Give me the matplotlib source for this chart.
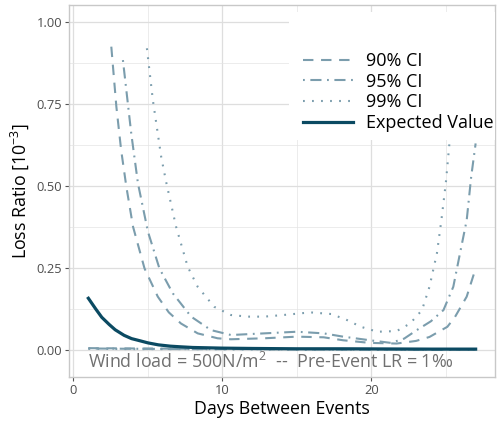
import matplotlib
matplotlib.use("Agg")
import matplotlib.pyplot as plt
from matplotlib.patches import Rectangle
from matplotlib.ticker import MultipleLocator

plt.rcParams['font.family'] = ['Open Sans', 'DejaVu Sans']
plt.rcParams['mathtext.fontset'] = 'custom'
plt.rcParams['mathtext.rm'] = 'Open Sans'
plt.rcParams['mathtext.it'] = 'Open Sans'
plt.rcParams['lines.scale_dashes'] = False

# expected loss ratio [10^-3]
ev_days = [1, 1.5, 1.9, 2.4, 2.8, 3.4, 3.9, 4.5, 5, 5.7, 6.5, 7.2, 8, 9, 10, 12, 15, 18, 21, 24, 27]
ev_vals = [0.158, 0.125, 0.100, 0.078, 0.062, 0.045, 0.035, 0.028, 0.022, 0.016, 0.012, 0.010,
           0.008, 0.007, 0.006, 0.005, 0.004, 0.004, 0.0035, 0.003, 0.003]

# upper bounds of the confidence intervals
ci90_days = [2.54, 2.88, 3.2, 3.55, 4.0, 4.77, 5.66, 6.4, 7.22, 8.34, 9.68, 10.57, 12.8, 15, 16.8,
             18.1, 19.9, 21.7, 23.0, 23.9, 25.1, 25.6, 26.4, 27]
ci90_vals = [0.925, 0.742, 0.61, 0.498, 0.376, 0.249, 0.163, 0.115, 0.081, 0.051, 0.036, 0.033,
             0.036, 0.041, 0.039, 0.030, 0.022, 0.020, 0.028, 0.040, 0.071, 0.100, 0.163, 0.249]

ci95_days = [3.32, 3.88, 4.33, 5.0, 5.77, 6.67, 7.9, 9.23, 10.57, 12.8, 15, 16.8, 18.1, 19.9,
             21.3, 22.2, 23.05, 24.0, 24.84, 25.5, 25.95, 26.4, 26.7, 27]
ci95_vals = [0.884, 0.660, 0.508, 0.361, 0.249, 0.173, 0.102, 0.061, 0.046, 0.051, 0.056, 0.051,
             0.041, 0.030, 0.022, 0.035, 0.061, 0.088, 0.122, 0.193, 0.295, 0.396, 0.528, 0.630]

ci99_days = [4.93, 5.33, 5.89, 6.22, 6.89, 7.67, 8.34, 9.45, 10.57, 11.7, 12.8, 14.1, 15.9, 17.3,
             18.3, 19.3, 20.4, 21.7, 22.6, 23.4, 23.9, 24.4, 24.7, 25.0, 25.25, 25.5]
ci99_vals = [0.920, 0.762, 0.589, 0.513, 0.376, 0.254, 0.193, 0.132, 0.107, 0.102, 0.102, 0.107,
             0.115, 0.110, 0.093, 0.071, 0.056, 0.058, 0.081, 0.122, 0.193, 0.295, 0.396, 0.510,
             0.635, 0.800]

# lower bounds (all close to zero)
low_days = [1, 4, 8, 12, 17, 22, 27]
ci90_low = [0.006, 0.005, 0.004, 0.003, 0.003, 0.002, 0.002]
ci95_low = [0.005, 0.004, 0.003, 0.003, 0.002, 0.002, 0.002]
ci99_low = [0.004, 0.003, 0.003, 0.002, 0.002, 0.002, 0.001]

ci_color = '#7b9dad'
ev_color = '#0b4a62'
dash90 = (0, (7.5, 5.5))
dash95 = (0, (1.3, 4, 8, 4))
dash99 = (0, (1.3, 5.2))

fig = plt.figure(figsize=(5, 4.24), dpi=100)
ax = fig.add_axes([69 / 500, 1 - 377 / 424, 426 / 500, 372 / 424])

ax.plot(ci90_days, ci90_vals, color=ci_color, lw=1.5, linestyle=dash90, label='90% CI')
ax.plot(ci95_days, ci95_vals, color=ci_color, lw=1.5, linestyle=dash95, label='95% CI')
ax.plot(ci99_days, ci99_vals, color=ci_color, lw=1.5, linestyle=dash99, label='99% CI')
ax.plot(low_days, ci90_low, color=ci_color, lw=1.5, linestyle=dash90)
ax.plot(low_days, ci95_low, color=ci_color, lw=1.5, linestyle=dash95)
ax.plot(low_days, ci99_low, color=ci_color, lw=1.5, linestyle=dash99)
ax.plot(ev_days, ev_vals, color=ev_color, lw=2.3, label='Expected Value')

ax.text(1, -0.037, 'Wind load = 500N/m$^2$  --  Pre-Event LR = 1\u2030', fontsize=12.9,
        color='#707070', ha='left', va='center')

ax.set_xlim(-0.3, 28.3)
ax.set_ylim(-0.082, 1.052)
ax.xaxis.set_major_locator(MultipleLocator(10))
ax.xaxis.set_minor_locator(MultipleLocator(5))
ax.yaxis.set_major_locator(MultipleLocator(0.25))
ax.yaxis.set_minor_locator(MultipleLocator(0.125))
ax.yaxis.set_major_formatter(lambda v, p: f'{v:.2f}')

ax.grid(which='major', color='#dedede', lw=0.9)
ax.grid(which='minor', color='#e4e4e4', lw=0.5)
ax.set_axisbelow(True)
for s in ax.spines.values():
    s.set_color('#c8c8c8')
    s.set_linewidth(1.0)
ax.tick_params(which='major', length=3, width=0.8, color='#555555', labelsize=9.3,
               labelcolor='#4d4d4d', pad=2)
ax.tick_params(which='minor', length=0)

ax.set_xlabel('Days Between Events', fontsize=12.8, labelpad=2)
ax.set_ylabel('Loss Ratio [10$^{-3}$]', fontsize=12.8, labelpad=4)

# white legend background inside the panel
ax.add_patch(Rectangle((289 / 500, 1 - 140 / 424), 211 / 500, 128 / 424, transform=fig.transFigure,
                       facecolor='white', edgecolor='none', zorder=4))
ax.legend(loc='upper left', bbox_to_anchor=(303 / 500, 1 - 52 / 424), bbox_transform=fig.transFigure,
          frameon=False, fontsize=13, handlelength=2.75, handletextpad=0.75, labelspacing=0.15,
          borderpad=0, borderaxespad=0)

fig.savefig('out.png', dpi=100)
